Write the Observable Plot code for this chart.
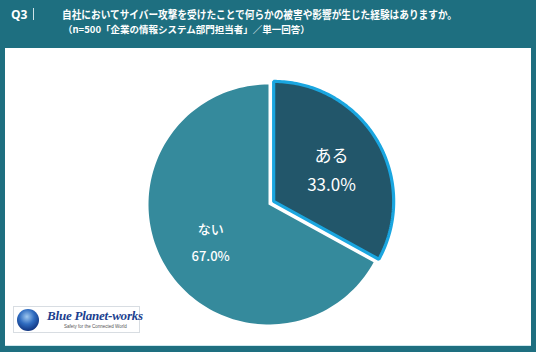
<!DOCTYPE html>
<html>
<head>
<meta charset="utf-8">
<script src="https://cdn.jsdelivr.net/npm/d3@7"></script>
<script src="https://cdn.jsdelivr.net/npm/@observablehq/plot@0.6"></script>
<style>
  html, body { margin: 0; padding: 0; }
  body { width: 536px; height: 352px; overflow: hidden; }
  #frame { position: relative; width: 536px; height: 352px; background: #1e6f80; font-family: "Noto Sans CJK JP", "Noto Sans", sans-serif; }
  #q { position: absolute; left: 11px; top: 6px; color: #fff; font-weight: bold; font-size: 12px; font-family: "Open Sans", "Noto Sans", sans-serif; }
  #bar { position: absolute; left: 33px; top: 8px; width: 1px; height: 12px; background: #cfe3e8; }
  #title { position: absolute; left: 62px; top: 7.5px; color: #fff; font-weight: bold; font-size: 11px; line-height: 13px; white-space: nowrap; transform: scaleX(0.878); transform-origin: 0 0; }
  #sub { position: absolute; left: 63px; top: 23.5px; color: #fff; font-weight: bold; font-size: 9.5px; line-height: 11px; white-space: nowrap; }
  #panel { position: absolute; left: 5px; top: 48px; width: 526px; height: 298px; background: #fff; box-shadow: inset 0 -1px 0 #cfe9ef; }
  #panel svg { display: block; }
  #logo { position: absolute; left: 13px; top: 306px; width: 127px; height: 27px; background: #fff; border: 1px solid #d8dde2; box-sizing: border-box; }
  #globe { position: absolute; left: 3px; top: 2px; width: 22px; height: 22px; border-radius: 50%; background: radial-gradient(circle at 45% 35%, #9fc8f0 0%, #2f6cc0 40%, #0d2f7a 80%); }
  #brand { position: absolute; left: 33px; top: 1px; font-family: "Liberation Serif", "DejaVu Serif", serif; font-style: italic; font-weight: bold; font-size: 13px; line-height: 16px; color: #1c3f8f; white-space: nowrap; letter-spacing: -0.2px; }
  #tag { position: absolute; left: 50px; top: 17px; font-family: "Liberation Sans", sans-serif; font-size: 4.5px; color: #555; white-space: nowrap; }
</style>
</head>
<body>
<div id="frame">
  <div id="q">Q3</div>
  <div id="bar"></div>
  <div id="title">自社においてサイバー攻撃を受けたことで何らかの被害や影響が生じた経験はありますか。</div>
  <div id="sub">（n=500「企業の情報システム部門担当者」／単一回答）</div>
  <div id="panel"></div>
  <div id="logo"><div id="globe"></div><div id="brand">Blue Planet-works</div><div id="tag">Safety for the Connected World</div></div>
</div>
<script>
const categories = ["ある", "ない"];
const values = [33.0, 67.0];
const valueLabels = ["33.0%", "67.0%"];
const explode = [0.05, 0];
const fills = ["#22566a", "#358a9c"];

const W = 526, H = 298, R = 120, cx = 263, cy = 156;
const total = d3.sum(values);
let acc = 0;
const slices = categories.map((c, i) => {
  const a0 = acc / total * 2 * Math.PI;
  acc += values[i];
  const a1 = acc / total * 2 * Math.PI;
  const mid = (a0 + a1) / 2;
  const ox = explode[i] * Math.sin(mid), oy = explode[i] * Math.cos(mid);
  const pts = [{x: ox, y: oy}];
  const n = 120;
  for (let k = 0; k <= n; k++) {
    const a = a0 + (a1 - a0) * k / n;
    pts.push({x: ox + Math.sin(a), y: oy + Math.cos(a)});
  }
  return {category: c, value: values[i], label: valueLabels[i], mid, ox, oy, pts, fill: fills[i]};
});

const labelR = 0.56;
const labels = slices.map(s => ({
  x: s.ox + labelR * Math.sin(s.mid),
  y: s.oy + labelR * Math.cos(s.mid),
  text: s.category + "\n" + s.label,
  big: s.category === "ある"
}));

const chart = Plot.plot({
  width: W, height: H,
  margin: 0,
  x: {domain: [-cx / R, (W - cx) / R], axis: null},
  y: {domain: [-(H - cy) / R, cy / R], axis: null},
  style: {background: "transparent"},
  marks: [
    Plot.line(slices[1].pts, {x: "x", y: "y", curve: "linear-closed", fill: slices[1].fill, stroke: "none"}),
    Plot.line(slices[0].pts, {x: "x", y: "y", curve: "linear-closed", fill: slices[0].fill, stroke: "#1aa6e0", strokeWidth: 3.2, strokeLinejoin: "miter"}),
    Plot.text(labels.filter(d => d.big), {x: "x", y: "y", text: "text", fill: "white", fontSize: 17, lineHeight: 1.7, fontFamily: "'Noto Sans CJK JP', 'Open Sans', sans-serif"}),
    Plot.text(labels.filter(d => !d.big), {x: "x", y: "y", text: "text", fill: "white", fontSize: 13, lineHeight: 2.05, fontWeight: 500, fontFamily: "'Noto Sans CJK JP', 'Open Sans', sans-serif"})
  ]
});
document.getElementById("panel").appendChild(chart);
</script>
</body>
</html>
